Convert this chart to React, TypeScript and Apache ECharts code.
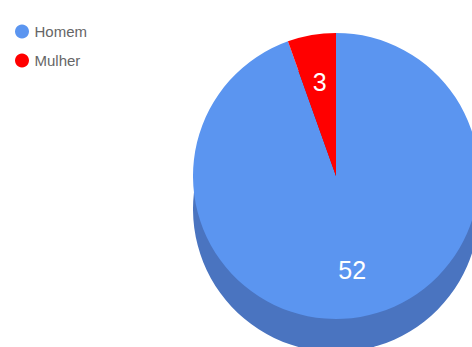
import React, { useEffect, useRef } from "react";
import * as echarts from "echarts";

const categories = ["Homem", "Mulher"];
const values = [52, 3];
const topColors = ["#5b95f0", "#ff0000"];
const sideColors = ["#4a74c0", "#b30000"];

export default function App() {
  const ref = useRef<HTMLDivElement>(null);
  useEffect(() => {
    if (!ref.current) return;
    const chart = echarts.init(ref.current, null, { renderer: "svg" });
    const mk = (colors: string[]) =>
      categories.map((c, i) => ({ name: c, value: values[i], itemStyle: { color: colors[i] } }));
    chart.setOption({
      animation: false,
      textStyle: { fontFamily: "Liberation Sans, Arial, sans-serif" },
      legend: {
        orient: "vertical",
        left: 10,
        top: 19,
        icon: "circle",
        itemWidth: 15,
        itemHeight: 14,
        itemGap: 14,
        selectedMode: false,
        textStyle: {
          color: "#666666",
          fontSize: 15,
          lineHeight: 14,
          fontFamily: "Liberation Sans, Arial, sans-serif",
        },
        data: categories.map((c, i) => ({ name: c, itemStyle: { color: topColors[i] } })),
      },
      series: [
        {
          type: "pie",
          name: "top",
          z: 3,
          center: [336, 176],
          radius: 143,
          startAngle: 90,
          silent: true,
          label: { show: false },
          labelLine: { show: false },
          itemStyle: { borderWidth: 0 },
          data: mk(topColors),
        },
        {
          type: "pie",
          name: "side",
          z: 1,
          center: [336, 209],
          radius: 143,
          startAngle: 90,
          silent: true,
          label: { show: false },
          labelLine: { show: false },
          itemStyle: { borderWidth: 0 },
          data: mk(sideColors),
        },
        {
          type: "pie",
          name: "labels",
          z: 5,
          center: [336, 176],
          radius: 184,
          startAngle: 90,
          silent: true,
          label: {
            show: true,
            position: "inside",
            formatter: "{c}",
            color: "#ffffff",
            fontSize: 25,
            fontFamily: "Liberation Sans, Arial, sans-serif",
          },
          labelLine: { show: false },
          itemStyle: { color: "rgba(0,0,0,0)", borderWidth: 0 },
          data: categories.map((c, i) => ({ name: c, value: values[i] })),
        },
      ],
    });
    return () => chart.dispose();
  }, []);
  return (
    <div
      ref={ref}
      style={{ position: "fixed", left: 0, top: 0, width: 472, height: 347, background: "#ffffff" }}
    />
  );
}
